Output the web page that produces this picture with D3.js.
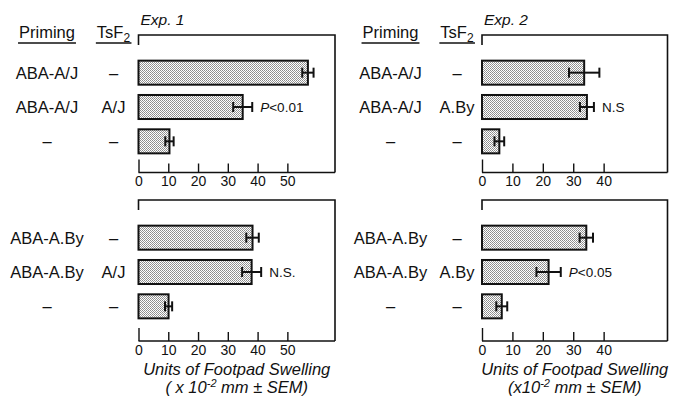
<!DOCTYPE html>
<html lang="en">
  <head>
    <meta charset="UTF-8" />
    <title>Footpad swelling</title>
    <style>
      body { margin: 0; background: #fff; }
      svg text { font-family: "Liberation Sans", Arial, Helvetica, sans-serif; fill: #111; }
    </style>
  </head>
  <body>
    <div id="wrapper"></div>
    <script src="https://d3js.org/d3.v7.min.js"></script>
    <script>
      // rows (top to bottom within each panel)
      const rows = ["r1", "r2", "r3"];

      // Exp. 1, upper block
      const exp1TopPriming = ["ABA-A/J", "ABA-A/J", "–"];
      const exp1TopTsf = ["–", "A/J", "–"];
      const exp1TopValues = [56.9, 35, 10.4];
      const exp1TopErr = [1.9, 3.2, 1.4];
      const exp1TopSig = ["", "P<0.01", ""];

      // Exp. 1, lower block
      const exp1BotPriming = ["ABA-A.By", "ABA-A.By", "–"];
      const exp1BotTsf = ["–", "A/J", "–"];
      const exp1BotValues = [38.3, 38, 10.1];
      const exp1BotErr = [2.1, 3.2, 1.2];
      const exp1BotSig = ["", "N.S.", ""];

      // Exp. 2, upper block
      const exp2TopPriming = ["ABA-A/J", "ABA-A/J", "–"];
      const exp2TopTsf = ["–", "A.By", "–"];
      const exp2TopValues = [33.6, 34.5, 5.7];
      const exp2TopErr = [5, 2.3, 1.6];
      const exp2TopSig = ["", "N.S", ""];

      // Exp. 2, lower block
      const exp2BotPriming = ["ABA-A.By", "ABA-A.By", "–"];
      const exp2BotTsf = ["–", "A.By", "–"];
      const exp2BotValues = [34.3, 21.9, 6.5];
      const exp2BotErr = [2.2, 4, 1.8];
      const exp2BotSig = ["", "P<0.05", ""];

      const exp1Ticks = [0, 10, 20, 30, 40, 50];
      const exp2Ticks = [0, 10, 20, 30, 40];

      const W = 677, H = 405;
      const svg = d3.select("#wrapper").append("svg")
        .attr("width", W).attr("height", H);

      // stippled fill
      const pat = svg.append("defs").append("pattern")
        .attr("id", "stipple").attr("patternUnits", "userSpaceOnUse")
        .attr("width", 2).attr("height", 2);
      pat.append("rect").attr("width", 2).attr("height", 2).attr("fill", "#fff");
      pat.append("rect").attr("width", 1).attr("height", 1).attr("fill", "#8a8a8a");
      pat.append("rect").attr("x", 1).attr("y", 1).attr("width", 1).attr("height", 1).attr("fill", "#999");

      const x1 = d3.scaleLinear().domain([0, 66]).range([138.5, 335]);
      const x2 = d3.scaleLinear().domain([0, 61]).range([482, 667.5]);

      function drawPanel(x, ticks, top, axisY, priming, tsf, values, errs, sig) {
        const g = svg.append("g");
        const left = x.range()[0], right = x.range()[1];
        const y = d3.scaleBand().domain(rows)
          .range([top + 20.5, top + 123.5])
          .paddingInner(0.3).paddingOuter(0.15);

        // frame: top, right, short left piece
        g.append("path")
          .attr("d", `M${left},${top + 10}V${top}H${right}V${axisY}`)
          .attr("fill", "none").attr("stroke", "#111").attr("stroke-width", 1.6);

        // axis
        const axis = g.append("g").attr("transform", `translate(0,${axisY})`)
          .call(d3.axisBottom(x).tickValues(ticks).tickSize(-9).tickPadding(4).tickSizeOuter(0));
        axis.select(".domain").attr("d", `M${left},0H${right}`).attr("stroke", "#111").attr("stroke-width", 1.6);
        axis.selectAll(".tick line").attr("stroke", "#111").attr("stroke-width", 1.4)
          .attr("y2", d => d === 0 ? -13 : -9);
        axis.selectAll(".tick text").attr("font-size", 14).attr("fill", "#111")
          .attr("font-family", "'Liberation Sans', Arial, sans-serif");

        // bars
        g.selectAll("rect.bar").data(values).join("rect")
          .attr("class", "bar")
          .attr("x", left)
          .attr("y", (d, i) => y(rows[i]))
          .attr("width", d => x(d) - left)
          .attr("height", y.bandwidth())
          .attr("fill", "url(#stipple)")
          .attr("stroke", "#111").attr("stroke-width", 2);

        // error bars
        const eb = g.selectAll("g.err").data(values).join("g").attr("class", "err");
        eb.append("line")
          .attr("x1", (d, i) => x(d - errs[i])).attr("x2", (d, i) => x(d + errs[i]))
          .attr("y1", (d, i) => y(rows[i]) + y.bandwidth() / 2)
          .attr("y2", (d, i) => y(rows[i]) + y.bandwidth() / 2)
          .attr("stroke", "#111").attr("stroke-width", 2);
        [-1, 1].forEach(s => {
          eb.append("line")
            .attr("x1", (d, i) => x(d + s * errs[i])).attr("x2", (d, i) => x(d + s * errs[i]))
            .attr("y1", (d, i) => y(rows[i]) + y.bandwidth() / 2 - 5)
            .attr("y2", (d, i) => y(rows[i]) + y.bandwidth() / 2 + 5)
            .attr("stroke", "#111").attr("stroke-width", 2);
        });

        // significance notes
        g.selectAll("text.sig").data(sig).join("text")
          .attr("class", "sig")
          .attr("x", (d, i) => x(values[i] + errs[i]) + 8)
          .attr("y", (d, i) => y(rows[i]) + y.bandwidth() / 2)
          .attr("dy", "0.36em").attr("font-size", 13.5)
          .each(function (d) {
            const t = d3.select(this);
            if (d.startsWith("P")) {
              t.append("tspan").attr("font-style", "italic").text("P");
              t.append("tspan").text(d.slice(1));
            } else {
              t.text(d);
            }
          });

        // row labels
        g.selectAll("text.prim").data(priming).join("text")
          .attr("class", "prim")
          .attr("x", left - 91.5)
          .attr("y", (d, i) => y(rows[i]) + y.bandwidth() / 2)
          .attr("dy", "0.36em").attr("text-anchor", "middle").attr("font-size", 16.5)
          .text(d => d);
        g.selectAll("text.tsf").data(tsf).join("text")
          .attr("class", "tsf")
          .attr("x", left - 25)
          .attr("y", (d, i) => y(rows[i]) + y.bandwidth() / 2)
          .attr("dy", "0.36em").attr("text-anchor", "middle").attr("font-size", 16.5)
          .text(d => d);
        return left;
      }

      function drawHeader(left, expLabel) {
        const g = svg.append("g");
        const p = g.append("text").attr("x", left - 91.5).attr("y", 37.5)
          .attr("text-anchor", "middle").attr("font-size", 16.5).text("Priming");
        const t = g.append("text").attr("x", left - 25).attr("y", 37.5)
          .attr("text-anchor", "middle").attr("font-size", 16.5);
        t.append("tspan").text("TsF");
        t.append("tspan").attr("font-size", 12).attr("dy", 4).text("2");
        [p, t].forEach(el => {
          const b = el.node().getBBox();
          g.append("line").attr("x1", b.x - 1).attr("x2", b.x + b.width + 1)
            .attr("y1", 43).attr("y2", 43).attr("stroke", "#111").attr("stroke-width", 1.4);
        });
        g.append("text").attr("x", left + 2).attr("y", 25)
          .attr("font-size", 15.5).attr("font-style", "italic").text(expLabel);
      }

      function drawTitle(x, spaced) {
        const cx = (x.range()[0] + x.range()[1]) / 2;
        svg.append("text").attr("x", cx).attr("y", 375).attr("text-anchor", "middle")
          .attr("font-size", 16.5).attr("font-style", "italic").text("Units of Footpad Swelling");
        const t = svg.append("text").attr("x", cx).attr("y", 393).attr("text-anchor", "middle")
          .attr("font-size", 16.5).attr("font-style", "italic");
        t.append("tspan").text(spaced ? "( x 10" : "(x10");
        t.append("tspan").attr("font-size", 11).attr("dy", -6).text("-2");
        t.append("tspan").attr("dy", 6).text(" mm ± SEM)");
      }

      const l1 = drawPanel(x1, exp1Ticks, 35, 172.5, exp1TopPriming, exp1TopTsf, exp1TopValues, exp1TopErr, exp1TopSig);
      drawPanel(x1, exp1Ticks, 200, 341, exp1BotPriming, exp1BotTsf, exp1BotValues, exp1BotErr, exp1BotSig);
      const l2 = drawPanel(x2, exp2Ticks, 35, 172.5, exp2TopPriming, exp2TopTsf, exp2TopValues, exp2TopErr, exp2TopSig);
      drawPanel(x2, exp2Ticks, 200, 341, exp2BotPriming, exp2BotTsf, exp2BotValues, exp2BotErr, exp2BotSig);

      drawHeader(l1, "Exp. 1");
      drawHeader(l2, "Exp. 2");
      drawTitle(x1, true);
      drawTitle(x2, false);
    </script>
  </body>
</html>
